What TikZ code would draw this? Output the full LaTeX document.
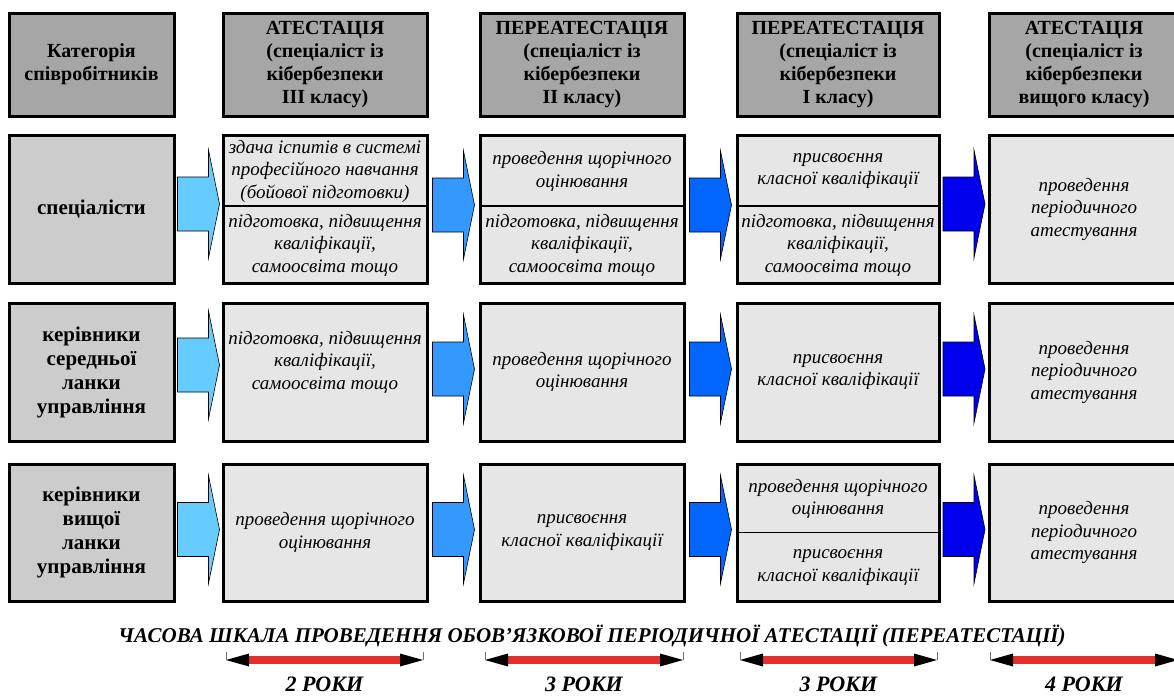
\documentclass[tikz,border=0pt]{standalone}
\usepackage{fontspec}
\setmainfont{Liberation Serif}
\usetikzlibrary{calc,positioning,arrows.meta}

\definecolor{hdrgrey}{HTML}{A6A6A6}
\definecolor{catgrey}{HTML}{CCCCCC}
\definecolor{cellgrey}{HTML}{E6E6E6}
\definecolor{arrA}{HTML}{66CCFF}
\definecolor{arrB}{HTML}{3399FF}
\definecolor{arrC}{HTML}{0066FF}
\definecolor{arrD}{HTML}{0000EE}
\definecolor{barred}{HTML}{E3302C}

\tikzset{
  box/.style={draw=black, line width=3pt, inner sep=0pt, align=center},
  hdr/.style={box, fill=hdrgrey, minimum height=103pt, font=\bfseries\fontsize{20}{23}\selectfont},
  cat/.style={box, fill=catgrey, minimum width=165pt, font=\bfseries\fontsize{21}{24}\selectfont},
  cell/.style={box, fill=cellgrey},
  txt/.style={align=center, inner sep=0pt, font=\itshape\fontsize{19}{22.5}\selectfont},
  divline/.style={line width=1.2pt},
  pics/blockarr/.style={code={
    \draw[line width=0.6pt, fill=#1] (-21,-27) -- (10,-27) -- (10,-54) -- (21,0)
      -- (10,54) -- (10,27) -- (-21,27) -- cycle;}},
  timebar/.style={draw=barred, line width=8pt,
    {Triangle[length=23pt,width=13pt,line width=0pt,color=black]}-{Triangle[length=23pt,width=13pt,line width=0pt,color=black]}},
  tickline/.style={draw=black!55, line width=1pt},
  scaletxt/.style={font=\bfseries\itshape\fontsize{21}{24}\selectfont},
  yrs/.style={font=\bfseries\itshape\fontsize{22}{24}\selectfont}
}

\begin{document}
\begin{tikzpicture}[x=1pt, y=-1pt]
  %%%%% FRAME %%%%%
  \useasboundingbox (0,0) rectangle (1174,697);
  \clip (0,0) rectangle (1174,697);

  %%%%% HEADER %%%%%
  \node[hdr, minimum width=165pt] (hcat) at (91.5,64.5) {Категорія\\співробітників};
  \node[hdr, minimum width=204pt] (hc3) at (325,64.5) {АТЕСТАЦІЯ\\(спеціаліст із\\кібербезпеки\\III класу)};
  \node[hdr, minimum width=204pt] (hc2) at (582,64.5) {ПЕРЕАТЕСТАЦІЯ\\(спеціаліст із\\кібербезпеки\\II класу)};
  \node[hdr, minimum width=202pt] (hc1) at (838,64.5) {ПЕРЕАТЕСТАЦІЯ\\(спеціаліст із\\кібербезпеки\\I класу)};
  \node[hdr, minimum width=190pt] (hcv) at (1084,64.5) {АТЕСТАЦІЯ\\(спеціаліст із\\кібербезпеки\\вищого класу)};

  %%%%% ROW 1: specialists %%%%%
  \node[cat, minimum height=148pt] (spec) at (91.5,209) {спеціалісти};
  \node[cell, minimum width=204pt, minimum height=148pt] (spec-c3) at (325,209) {};
  \node[cell, minimum width=204pt, minimum height=148pt] (spec-c2) at (582,209) {};
  \node[cell, minimum width=202pt, minimum height=148pt] (spec-c1) at (838,209) {};
  \node[cell, minimum width=190pt, minimum height=148pt] (spec-cv) at (1084,209) {};

  \draw[divline] ($(spec-c3.north west)!0.48!(spec-c3.south west)$) -- ($(spec-c3.north east)!0.48!(spec-c3.south east)$);
  \draw[divline] ($(spec-c2.north west)!0.48!(spec-c2.south west)$) -- ($(spec-c2.north east)!0.48!(spec-c2.south east)$);
  \draw[divline] ($(spec-c1.north west)!0.48!(spec-c1.south west)$) -- ($(spec-c1.north east)!0.48!(spec-c1.south east)$);

  \node[txt] (spec-c3a) at ($(spec-c3.north)!0.25!(spec-c3.south)$) {здача іспитів в системі\\професійного навчання\\(бойової підготовки)};
  \node[txt] (spec-c3b) at ($(spec-c3.north)!0.74!(spec-c3.south)$) {підготовка, підвищення\\кваліфікації,\\самоосвіта тощо};
  \node[txt] (spec-c2a) at ($(spec-c2.north)!0.25!(spec-c2.south)$) {проведення щорічного\\оцінювання};
  \node[txt] (spec-c2b) at ($(spec-c2.north)!0.74!(spec-c2.south)$) {підготовка, підвищення\\кваліфікації,\\самоосвіта тощо};
  \node[txt] (spec-c1a) at ($(spec-c1.north)!0.25!(spec-c1.south)$) {присвоєння\\класної кваліфікації};
  \node[txt] (spec-c1b) at ($(spec-c1.north)!0.74!(spec-c1.south)$) {підготовка, підвищення\\кваліфікації,\\самоосвіта тощо};
  \node[txt] (spec-cvt) at (spec-cv) {проведення\\періодичного\\атестування};

  \pic at ($(spec.east)!0.5!(spec-c3.west)+(0,-5)$) {blockarr=arrA};
  \pic at ($(spec-c3.east)!0.5!(spec-c2.west)+(0,-4)$) {blockarr=arrB};
  \pic at ($(spec-c2.east)!0.5!(spec-c1.west)+(0,-4)$) {blockarr=arrC};
  \pic at ($(spec-c1.east)!0.5!(spec-cv.west)+(0,-5)$) {blockarr=arrD};

  %%%%% ROW 2: middle managers %%%%%
  \node[cat, minimum height=138pt] (mid) at (91.5,372) {керівники\\середньої\\ланки\\управління};
  \node[cell, minimum width=204pt, minimum height=138pt] (mid-c3) at (325,372) {};
  \node[cell, minimum width=204pt, minimum height=138pt] (mid-c2) at (582,372) {};
  \node[cell, minimum width=202pt, minimum height=138pt] (mid-c1) at (838,372) {};
  \node[cell, minimum width=190pt, minimum height=138pt] (mid-cv) at (1084,372) {};

  \node[txt] (mid-c3t) at ($(mid-c3.center)+(0,-10)$) {підготовка, підвищення\\кваліфікації,\\самоосвіта тощо};
  \node[txt] (mid-c2t) at (mid-c2) {проведення щорічного\\оцінювання};
  \node[txt] (mid-c1t) at (mid-c1) {присвоєння\\класної кваліфікації};
  \node[txt] (mid-cvt) at (mid-cv) {проведення\\періодичного\\атестування};

  \pic at ($(mid.east)!0.5!(mid-c3.west)+(0,-7)$) {blockarr=arrA};
  \pic at ($(mid-c3.east)!0.5!(mid-c2.west)+(0,-3)$) {blockarr=arrB};
  \pic at ($(mid-c2.east)!0.5!(mid-c1.west)+(0,-3)$) {blockarr=arrC};
  \pic at ($(mid-c1.east)!0.5!(mid-cv.west)+(0,-3)$) {blockarr=arrD};

  %%%%% ROW 3: top managers %%%%%
  \node[cat, minimum height=137pt] (top) at (91.5,532.5) {керівники\\вищої\\ланки\\управління};
  \node[cell, minimum width=204pt, minimum height=137pt] (top-c3) at (325,532.5) {};
  \node[cell, minimum width=204pt, minimum height=137pt] (top-c2) at (582,532.5) {};
  \node[cell, minimum width=202pt, minimum height=137pt] (top-c1) at (838,532.5) {};
  \node[cell, minimum width=190pt, minimum height=137pt] (top-cv) at (1084,532.5) {};

  \draw[divline] (top-c1.west) -- (top-c1.east);

  \node[txt] (top-c3t) at (top-c3) {проведення щорічного\\оцінювання};
  \node[txt] (top-c2t) at (top-c2) {присвоєння\\класної кваліфікації};
  \node[txt] (top-c1a) at ($(top-c1.north)!0.26!(top-c1.south)$) {проведення щорічного\\оцінювання};
  \node[txt] (top-c1b) at ($(top-c1.north)!0.75!(top-c1.south)$) {присвоєння\\класної кваліфікації};
  \node[txt] (top-cvt) at (top-cv) {проведення\\періодичного\\атестування};

  \pic at ($(top.east)!0.5!(top-c3.west)+(0,-3)$) {blockarr=arrA};
  \pic at ($(top-c3.east)!0.5!(top-c2.west)+(0,-3)$) {blockarr=arrB};
  \pic at ($(top-c2.east)!0.5!(top-c1.west)+(0,-3)$) {blockarr=arrC};
  \pic at ($(top-c1.east)!0.5!(top-cv.west)+(0,-3)$) {blockarr=arrD};

  %%%%% TIME SCALE %%%%%
  \node[scaletxt] (scale) at (592,636) {ЧАСОВА ШКАЛА ПРОВЕДЕННЯ ОБОВ’ЯЗКОВОЇ ПЕРІОДИЧНОЇ АТЕСТАЦІЇ (ПЕРЕАТЕСТАЦІЇ)};

  \coordinate (t3l) at (226,660);  \coordinate (t3r) at (423,660);
  \coordinate (t2l) at (485,660);  \coordinate (t2r) at (683,660);
  \coordinate (t1l) at (740,660);  \coordinate (t1r) at (937,660);
  \coordinate (tvl) at (990,660);  \coordinate (tvr) at (1178,660);

  \draw[timebar] (t3l) -- (t3r);
  \draw[timebar] (t2l) -- (t2r);
  \draw[timebar] (t1l) -- (t1r);
  \draw[timebar] (tvl) -- (tvr);

  \draw[tickline] (t3l) -- ++(0,-8);  \draw[tickline] (t3r) -- ++(0,-8);
  \draw[tickline] (t2l) -- ++(0,-8);  \draw[tickline] (t2r) -- ++(0,-8);
  \draw[tickline] (t1l) -- ++(0,-8);  \draw[tickline] (t1r) -- ++(0,-8);
  \draw[tickline] (tvl) -- ++(0,-8);

  \node[yrs] (y3) at ($(t3l)!0.5!(t3r)+(0,24)$) {2 РОКИ};
  \node[yrs] (y2) at ($(t2l)!0.5!(t2r)+(0,24)$) {3 РОКИ};
  \node[yrs] (y1) at ($(t1l)!0.5!(t1r)+(0,24)$) {3 РОКИ};
  \node[yrs] (yv) at ($(tvl)!0.5!(tvr)+(0,24)$) {4 РОКИ};
\end{tikzpicture}
\end{document}
